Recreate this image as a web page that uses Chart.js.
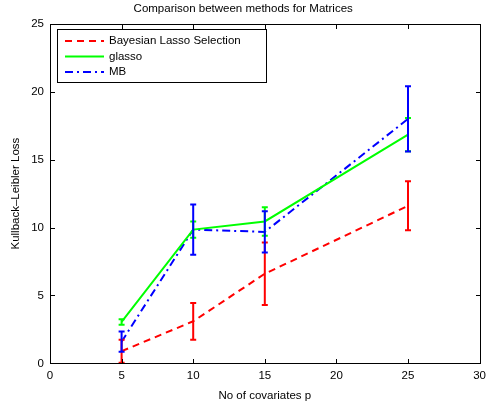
<!DOCTYPE html>
<html lang="en">
<head>
    <meta charset="UTF-8">
    <title>Comparison between methods for Matrices</title>
    <script src="https://cdn.jsdelivr.net/npm/chart.js"></script>
    <style>
        html, body { margin: 0; padding: 0; background: #ffffff; }
        #wrap { width: 492px; height: 404px; position: relative; }
    </style>
</head>
<body>
<div id="wrap"><canvas id="klChart" width="492" height="404"></canvas></div>
<script>
    // values
    const covariates = [5, 10, 15, 25];
    const bayesLoss = [0.9, 3.1, 6.6, 11.6];
    const bayesErr = [0.85, 1.35, 2.3, 1.8];
    const glassoLoss = [3.05, 9.85, 10.45, 16.84];
    const glassoErr = [0.2, 0.6, 1.05, 1.22];
    const mbLoss = [1.6, 9.85, 9.68, 18.0];
    const mbErr = [0.75, 1.85, 1.52, 2.4];
    const xTicks = [0, 5, 10, 15, 20, 25, 30];
    const yTicks = [0, 5, 10, 15, 20, 25];

    const FONT = 'Liberation Sans, Arial, Helvetica, sans-serif';

    function toPoints(xs, ys) {
        return xs.map((x, i) => ({ x: x, y: ys[i] }));
    }

    const seriesInfo = [
        { label: 'Bayesian Lasso Selection', data: bayesLoss, err: bayesErr, color: '#ff0000', dash: [7, 5] },
        { label: 'glasso', data: glassoLoss, err: glassoErr, color: '#00ff00', dash: [] },
        { label: 'MB', data: mbLoss, err: mbErr, color: '#0000ff', dash: [8, 4, 2, 4] }
    ];

    // error bars, inward ticks, box and legend in matlab style
    const matlabPlugin = {
        id: 'matlabStyle',
        afterDatasetsDraw(chart) {
            const ctx = chart.ctx;
            const xs = chart.scales.x, ys = chart.scales.y;
            ctx.save();
            seriesInfo.forEach(s => {
                ctx.strokeStyle = s.color;
                ctx.lineWidth = 2;
                ctx.setLineDash([]);
                covariates.forEach((c, i) => {
                    const px = xs.getPixelForValue(c);
                    const top = ys.getPixelForValue(s.data[i] + s.err[i]);
                    const bot = ys.getPixelForValue(Math.max(0, s.data[i] - s.err[i]));
                    ctx.beginPath();
                    ctx.moveTo(px, top); ctx.lineTo(px, bot);
                    ctx.moveTo(px - 3, top); ctx.lineTo(px + 3, top);
                    ctx.moveTo(px - 3, bot); ctx.lineTo(px + 3, bot);
                    ctx.stroke();
                });
            });
            ctx.restore();
        },
        afterDraw(chart) {
            const ctx = chart.ctx;
            const a = chart.chartArea;
            const xs = chart.scales.x, ys = chart.scales.y;
            const L = Math.round(a.left), R = Math.round(a.right);
            const T = Math.round(a.top), B = Math.round(a.bottom);
            ctx.save();
            ctx.fillStyle = '#000000';
            ctx.fillRect(L, T, R - L, 1);
            ctx.fillRect(L, B, R - L + 1, 1);
            ctx.fillRect(L, T, 1, B - T);
            ctx.fillRect(R, T, 1, B - T);
            xTicks.forEach(t => {
                const px = Math.round(xs.getPixelForValue(t));
                ctx.fillRect(px, B - 4, 1, 4);
                ctx.fillRect(px, T + 1, 1, 4);
            });
            yTicks.forEach(t => {
                const py = Math.round(ys.getPixelForValue(t));
                ctx.fillRect(L + 1, py, 4, 1);
                ctx.fillRect(R - 4, py, 4, 1);
            });

            // legend box
            const lx = L + 7, ly = T + 5, lw = 209, lh = 53;
            ctx.fillStyle = '#ffffff';
            ctx.fillRect(lx, ly, lw, lh);
            ctx.strokeStyle = '#000000';
            ctx.lineWidth = 1;
            ctx.strokeRect(lx + 0.5, ly + 0.5, lw, lh);
            ctx.font = '11.5px ' + FONT;
            ctx.textBaseline = 'middle';
            ctx.textAlign = 'left';
            seriesInfo.forEach((s, i) => {
                const y = ly + 12 + i * 15.5;
                ctx.strokeStyle = s.color;
                ctx.lineWidth = 2;
                ctx.setLineDash(s.dash);
                ctx.beginPath();
                ctx.moveTo(lx + 8, y); ctx.lineTo(lx + 47, y);
                ctx.stroke();
                ctx.fillStyle = '#000000';
                ctx.fillText(s.label, lx + 52, y);
            });
            ctx.restore();
        }
    };

    new Chart(document.getElementById('klChart'), {
        type: 'line',
        data: {
            datasets: seriesInfo.map(s => ({
                label: s.label,
                data: toPoints(covariates, s.data),
                borderColor: s.color,
                backgroundColor: s.color,
                borderWidth: 2,
                borderDash: s.dash,
                pointRadius: 0,
                tension: 0,
                fill: false
            }))
        },
        options: {
            responsive: false,
            animation: false,
            devicePixelRatio: 1,
            layout: { padding: { left: 0, right: 5.6, top: 0, bottom: 0 } },
            plugins: {
                legend: { display: false },
                tooltip: { enabled: false },
                title: {
                    display: true,
                    text: 'Comparison between methods for Matrices',
                    color: '#000',
                    font: { family: FONT, size: 11.5, weight: 'normal' },
                    padding: { top: 2, bottom: 8 }
                }
            },
            scales: {
                x: {
                    type: 'linear',
                    min: 0, max: 30,
                    afterBuildTicks: sc => { sc.ticks = xTicks.map(v => ({ value: v })); },
                    grid: { display: false, drawTicks: false },
                    border: { display: false },
                    ticks: { color: '#000', font: { family: FONT, size: 11.5 }, padding: 6, maxRotation: 0 },
                    title: {
                        display: true, text: 'No of covariates p', color: '#000',
                        font: { family: FONT, size: 11.5 }, padding: { top: 0, bottom: 1 }
                    }
                },
                y: {
                    type: 'linear',
                    min: 0, max: 25,
                    afterBuildTicks: sc => { sc.ticks = yTicks.map(v => ({ value: v })); },
                    afterFit: sc => { sc.width = 50; },
                    grid: { display: false, drawTicks: false },
                    border: { display: false },
                    ticks: { color: '#000', font: { family: FONT, size: 11.5 }, padding: 6 },
                    title: {
                        display: true, text: 'Kullback\u2013Leibler Loss', color: '#000',
                        font: { family: FONT, size: 11.5 }, padding: { top: 9, bottom: 2 }
                    }
                }
            }
        },
        plugins: [matlabPlugin]
    });
</script>
</body>
</html>
